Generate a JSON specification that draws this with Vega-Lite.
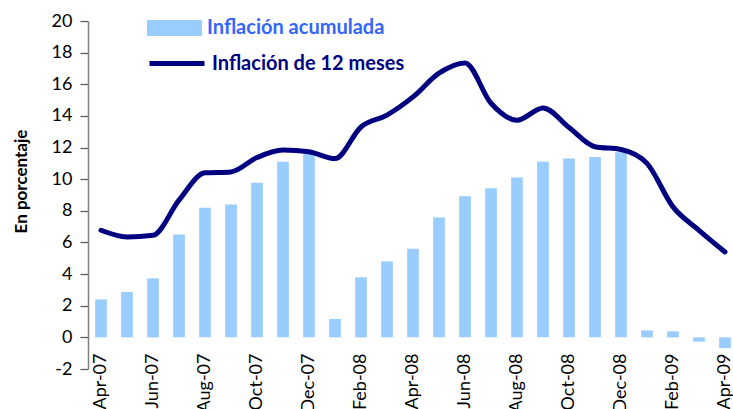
{
  "$schema": "https://vega.github.io/schema/vega-lite/v6.json",
  "width": 645,
  "height": 348,
  "autosize": {"type": "none"},
  "padding": {"left": 88, "top": 21, "right": 0, "bottom": 40},
  "background": "white",
  "config": {
    "view": {"stroke": null},
    "font": "Lato",
    "axisY": {
      "grid": false, "domainColor": "#808080", "domainWidth": 1.5,
      "tickColor": "#555555", "tickSize": 8, "tickWidth": 1.2,
      "labelFontSize": 18, "labelColor": "black", "labelPadding": 8,
      "labelOverlap": false, "labelFlush": false,
      "titleFontSize": 17, "titleFontWeight": "bold", "titleColor": "black"
    },
    "axisX": {
      "labelAngle": 270, "labelFontSize": 18, "labelColor": "black",
      "ticks": false, "domain": false, "labelPadding": 0, "grid": false,
      "labelOverlap": false, "offset": -16
    }
  },
  "data": {"values": [
    {"mes": "Apr-07", "acum": 2.4, "m12": 6.77},
    {"mes": "May-07", "acum": 2.87, "m12": 6.35},
    {"mes": "Jun-07", "acum": 3.73, "m12": 6.45},
    {"mes": "Jul-07", "acum": 6.5, "m12": 8.67},
    {"mes": "Aug-07", "acum": 8.2, "m12": 10.4},
    {"mes": "Sep-07", "acum": 8.4, "m12": 10.46},
    {"mes": "Oct-07", "acum": 9.77, "m12": 11.37},
    {"mes": "Nov-07", "acum": 11.1, "m12": 11.84},
    {"mes": "Dec-07", "acum": 11.6, "m12": 11.73},
    {"mes": "Jan-08", "acum": 1.16, "m12": 11.3},
    {"mes": "Feb-08", "acum": 3.8, "m12": 13.3},
    {"mes": "Mar-08", "acum": 4.8, "m12": 14.05},
    {"mes": "Apr-08", "acum": 5.6, "m12": 15.2},
    {"mes": "May-08", "acum": 7.57, "m12": 16.7},
    {"mes": "Jun-08", "acum": 8.92, "m12": 17.35},
    {"mes": "Jul-08", "acum": 9.43, "m12": 14.8},
    {"mes": "Aug-08", "acum": 10.1, "m12": 13.73},
    {"mes": "Sep-08", "acum": 11.1, "m12": 14.5},
    {"mes": "Oct-08", "acum": 11.3, "m12": 13.27},
    {"mes": "Nov-08", "acum": 11.4, "m12": 12.05},
    {"mes": "Dec-08", "acum": 11.7, "m12": 11.88},
    {"mes": "Jan-09", "acum": 0.44, "m12": 11.0},
    {"mes": "Feb-09", "acum": 0.38, "m12": 8.25},
    {"mes": "Mar-09", "acum": -0.27, "m12": 6.77},
    {"mes": "Apr-09", "acum": -0.68, "m12": 5.4}
  ]},
  "encoding": {
    "x": {
      "field": "mes", "type": "ordinal", "sort": null, "title": null,
      "scale": {"range": [0, 650], "paddingInner": 0, "paddingOuter": 0},
      "axis": {
        "values": ["Apr-07","Jun-07","Aug-07","Oct-07","Dec-07","Feb-08","Apr-08","Jun-08","Aug-08","Oct-08","Dec-08","Feb-09","Apr-09"]
      }
    }
  },
  "layer": [
    {
      "mark": {"type": "bar", "width": {"band": 0.45}, "color": "#99CCFF"},
      "encoding": {
        "y": {
          "field": "acum", "type": "quantitative", "title": "En porcentaje",
          "scale": {"domain": [-2, 20], "nice": false},
          "axis": {
            "values": [-2,0,2,4,6,8,10,12,14,16,18,20],
            "tickCount": 24,
            "labelExpr": "'' + datum.value",
            "titleX": -62, "titleY": 160, "titleBaseline": "alphabetic"
          }
        },
        "color": {
          "datum": "Inflación acumulada",
          "scale": {"range": ["#99CCFF"]},
          "legend": {
            "orient": "none", "legendX": 59, "legendY": -20.5, "title": null, "padding": 0,
            "symbolType": "M-1,-0.29H1V0.29H-1Z", "symbolSize": 3025, "symbolStrokeWidth": 0,
            "symbolOpacity": 1, "labelLimit": 400,
            "labelFontSize": 20, "labelFontWeight": "bold", "labelColor": "#3366FF", "labelOffset": 5
          }
        }
      }
    },
    {
      "mark": {"type": "rule", "color": "#808080", "strokeWidth": 1.5},
      "encoding": {"y": {"datum": 0, "type": "quantitative", "title": "En porcentaje"}}
    },
    {
      "mark": {"type": "line", "interpolate": "monotone", "strokeWidth": 5, "strokeCap": "round", "color": "#000080"},
      "encoding": {
        "y": {"field": "m12", "type": "quantitative", "title": "En porcentaje"},
        "color": {
          "datum": "Inflación de 12 meses",
          "scale": {"range": ["#000080"]},
          "legend": {
            "orient": "none", "legendX": 59, "legendY": 12.5, "title": null, "padding": 0,
            "symbolType": "stroke", "symbolSize": 3025, "symbolStrokeWidth": 5, "labelLimit": 400,
            "labelFontSize": 20, "labelFontWeight": "bold", "labelColor": "#000080", "labelOffset": 5
          }
        }
      }
    }
  ],
  "resolve": {"scale": {"color": "independent"}}
}
